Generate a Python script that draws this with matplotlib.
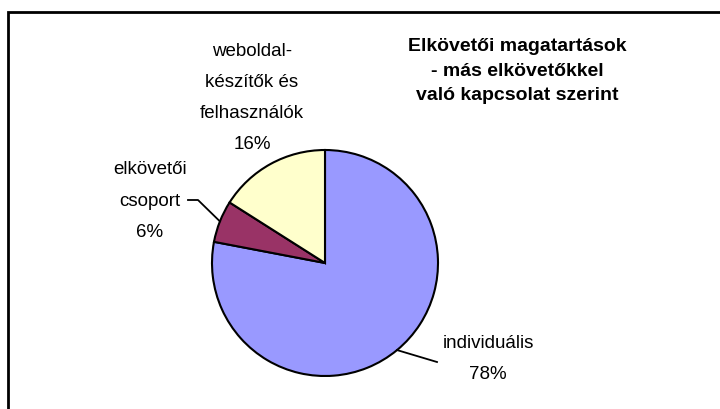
import numpy as np
import matplotlib
matplotlib.use('Agg')
from matplotlib import pyplot as plt
from matplotlib.patches import Rectangle

plt.rcParams['font.family'] = ['Liberation Sans', 'DejaVu Sans']

labels = ['individuális', 'elkövetői\ncsoport', 'weboldal-\nkészítők és\nfelhasználók']
values = [78, 6, 16]
colors = ['#9999FF', '#993366', '#FFFFCC']
title = 'Elkövetői magatartások\n- más elkövetőkkel\nvaló kapcsolat szerint'

W, H = 720, 409
fig = plt.figure(figsize=(W / 100, H / 100), dpi=100)
ax = fig.add_axes([0, 0, 1, 1])

# frame of the chart area (continues past the right and bottom edge)
fig.patches.append(Rectangle((8 / W, -0.2), 1.2, (H - 12) / H + 0.2, transform=fig.transFigure,
                             fill=False, edgecolor='black', linewidth=2))

cx, cy, r = 325, H - 263, 113
wedges, _ = ax.pie(values, colors=colors, startangle=90, counterclock=False,
                   center=(cx, cy), radius=r, frame=True,
                   wedgeprops=dict(edgecolor='black', linewidth=1.5))
ax.set_xlim(0, W)
ax.set_ylim(0, H)
ax.set_aspect('equal')
ax.axis('off')

pct = ['%d%%' % v for v in values]

def edge_point(w):
    a = np.deg2rad((w.theta1 + w.theta2) / 2)
    return cx + r * np.cos(a), cy + r * np.sin(a)

fs = 13.5
ls = 2.1
# individuális
ax.text(488, H - 359, labels[0] + '\n' + pct[0], ha='center', va='center', fontsize=fs, linespacing=ls)
x0, y0 = edge_point(wedges[0])
ax.plot([x0, 437], [y0, H - 362], color='black', lw=1.3)

# elkövetői csoport
ax.text(150, H - 201, labels[1] + '\n' + pct[1], ha='center', va='center', fontsize=fs, linespacing=ls)
x1, y1 = edge_point(wedges[1])
ax.plot([x1, 198, 188], [y1, H - 200, H - 200], color='black', lw=1.3)

# weboldal
ax.text(252, H - 98, labels[2] + '\n' + pct[2], ha='center', va='center', fontsize=fs, linespacing=ls)

ax.text(517, H - 71, title, ha='center', va='center', fontsize=14, fontweight='bold', linespacing=1.55)

plt.savefig('out.png', dpi=100)
